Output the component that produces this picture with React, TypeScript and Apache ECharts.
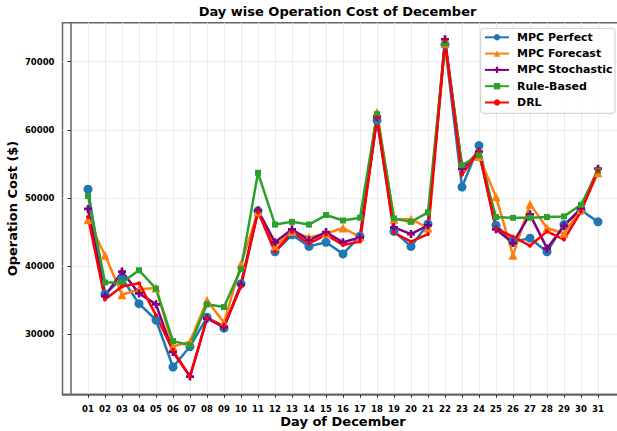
import React, { useEffect, useRef } from 'react';
import * as echarts from 'echarts';

const days = [1, 2, 3, 4, 5, 6, 7, 8, 9, 10, 11, 12, 13, 14, 15, 16, 17, 18, 19, 20, 21, 22, 23, 24, 25, 26, 27, 28, 29, 30, 31];
const yTicks = [30000, 40000, 50000, 60000, 70000];

const mpcPerfect = [51300, 35900, 38200, 34500, 32100, 25200, 28200, 32500, 30900, 37400, 48100, 42100, 44600, 42900, 43500, 41800, 44400, 61400, 45100, 42900, 46200, 72500, 51600, 57700, 46000, 43600, 44100, 42100, 46100, 48200, 46500];
const mpcForecast = [46800, 41600, 35800, 36600, 36800, 28200, 28900, 35000, 31700, 40300, 48000, 42900, 45100, 44200, 44800, 45600, 44300, 62600, 46900, 46900, 45600, 72700, 54600, 56100, 50200, 41600, 49100, 45600, 44800, 48300, 53700];
const mpcStochastic = [48400, 35600, 39200, 36000, 34400, 27400, 23800, 32300, 31100, 37300, 48200, 43500, 45400, 43800, 45000, 43500, 44200, 61900, 45700, 44700, 46000, 73300, 54300, 56800, 45400, 43400, 47600, 42600, 45900, 48500, 54300];
const ruleBased = [50300, 37600, 37600, 39400, 36700, 29000, 28400, 34400, 34000, 39600, 53700, 46100, 46500, 46100, 47500, 46700, 47100, 62300, 47000, 46500, 47900, 72700, 54800, 56300, 47200, 47100, 47100, 47200, 47300, 49000, 54000];
const drl = [47200, 35100, 37000, 37500, 32800, 27600, 23800, 32400, 31200, 37000, 48000, 42100, 45000, 43300, 44600, 43100, 43600, 61800, 44900, 43600, 44700, 73000, 53400, 56900, 45500, 44300, 43000, 45100, 43900, 48000, 54000];

const FONT = 'DejaVu Sans';
const PLUS = 'path://M3.33,0H6.67V3.33H10V6.67H6.67V10H3.33V6.67H0V3.33H3.33Z';

function mk(name: string, values: number[], color: string, symbol: string, size: number) {
  return {
    name,
    type: 'line',
    data: days.map((d, i) => [d, values[i]]),
    symbol,
    symbolSize: size,
    showSymbol: true,
    z: 2,
    lineStyle: { color, width: 2.5 },
    itemStyle: { color, borderWidth: 0 },
    emphasis: { disabled: true },
  };
}

export default function App() {
  const ref = useRef<HTMLDivElement>(null);
  useEffect(() => {
    if (!ref.current) return;
    const chart = echarts.init(ref.current, undefined, { renderer: 'svg' });
    chart.setOption({
      animation: false,
      backgroundColor: '#ffffff',
      textStyle: { fontFamily: FONT },
      title: {
        text: 'Day wise Operation Cost of December',
        left: 337.5,
        top: 5,
        textAlign: 'center',
        padding: 0,
        textStyle: { fontFamily: FONT, fontSize: 13, fontWeight: 'bold', color: '#000' },
      },
      grid: {
        left: 62.5,
        top: 22.7,
        width: 561,
        height: 371.6,
        containLabel: false,
        outerBoundsMode: 'none',
        show: true,
        borderColor: '#666',
        borderWidth: 1.5,
        backgroundColor: 'transparent',
      },
      legend: {
        orient: 'vertical',
        left: 484,
        top: 30.3,
        padding: 0,
        z: 10,
        itemWidth: 24,
        itemHeight: 8,
        itemGap: 2.3,
        backgroundColor: 'transparent',
        textStyle: { fontFamily: FONT, fontSize: 11, fontWeight: 'bold', color: '#000', lineHeight: 14, padding: [0, 0, 0, 3] },
        data: ['MPC Perfect', 'MPC Forecast', 'MPC Stochastic', 'Rule-Based', 'DRL'],
      },
      graphic: [
        {
          type: 'rect',
          z: 5,
          shape: { x: 480.7, y: 28.3, width: 134.3, height: 85, r: 3 },
          style: { fill: 'rgba(255,255,255,0.8)', stroke: '#cccccc', lineWidth: 1 },
        },
      ],
      xAxis: {
        type: 'value',
        min: -0.5,
        max: 32.5,
        name: 'Day of December',
        nameLocation: 'middle',
        nameGap: 20.5,
        nameMoveOverlap: false,
        nameTextStyle: { fontFamily: FONT, fontSize: 13, fontWeight: 'bold', color: '#000', lineHeight: 14 },
        axisLine: { show: true, lineStyle: { color: '#666', width: 1.5 } },
        axisTick: { show: true, length: 3.5, lineStyle: { color: '#333', width: 1 }, customValues: days },
        axisLabel: {
          customValues: days,
          margin: 9.5,
          fontFamily: FONT,
          fontSize: 8.5,
          fontWeight: 'bold',
          color: '#000',
          lineHeight: 10,
          formatter: (v: number) => (v < 10 ? '0' + v : String(v)),
        },
        splitLine: { show: true, lineStyle: { color: '#ebebeb', width: 1 } },
      },
      yAxis: {
        type: 'value',
        min: 21196,
        max: 75723,
        name: 'Operation Cost ($)',
        nameLocation: 'middle',
        nameGap: 43.5,
        nameMoveOverlap: false,
        nameTextStyle: { fontFamily: FONT, fontSize: 13, fontWeight: 'bold', color: '#000' },
        axisLine: { show: true, lineStyle: { color: '#666', width: 1.5 } },
        axisTick: { show: true, length: 3.5, lineStyle: { color: '#333', width: 1 }, customValues: yTicks },
        axisLabel: {
          customValues: yTicks,
          margin: 8,
          fontFamily: FONT,
          fontSize: 8.5,
          fontWeight: 'bold',
          color: '#000',
          formatter: (v: number) => String(v),
        },
        splitLine: { show: true, lineStyle: { color: '#ebebeb', width: 1 } },
      },
      series: [
        mk('MPC Perfect', mpcPerfect, '#1f77b4', 'circle', 9),
        mk('MPC Forecast', mpcForecast, '#ff7f0e', 'triangle', 9),
        mk('MPC Stochastic', mpcStochastic, '#800080', PLUS, 8),
        mk('Rule-Based', ruleBased, '#2ca02c', 'rect', 6),
        mk('DRL', drl, '#ff0000', 'circle', 4),
      ],
    });
    return () => chart.dispose();
  }, []);
  return <div ref={ref} style={{ position: 'fixed', left: 0, top: 0, width: 617, height: 431 }} />;
}
